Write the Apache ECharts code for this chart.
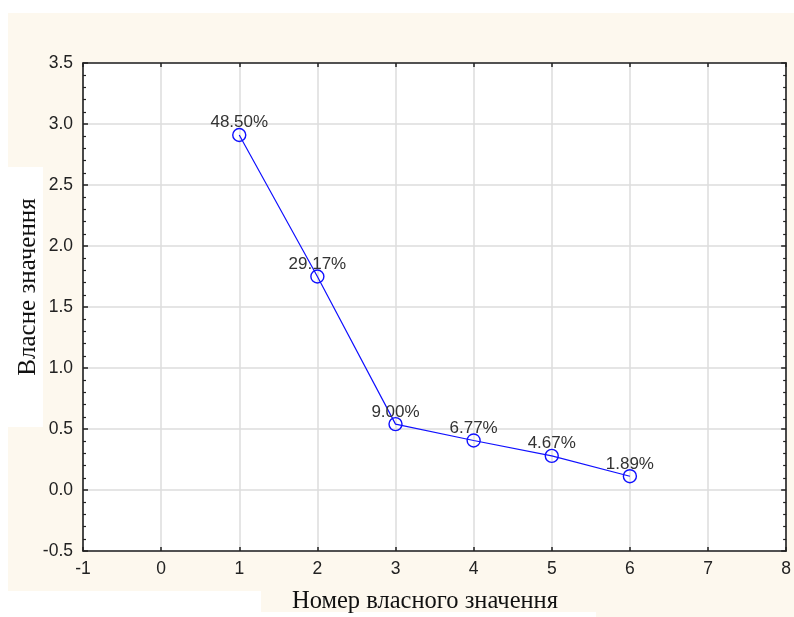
<!DOCTYPE html>
<html>
<head>
<meta charset="utf-8">
<script src="https://cdn.jsdelivr.net/npm/echarts@6/dist/echarts.min.js"></script>
<style>
  html, body { margin: 0; padding: 0; background: #ffffff; }
  #chart { width: 794px; height: 617px; }
</style>
</head>
<body>
<div id="chart"></div>
<script>
// Eigenvalue scree plot
const componentNumbers = [1, 2, 3, 4, 5, 6];
const eigenValues = [2.910, 1.750, 0.540, 0.406, 0.280, 0.113];
const varianceLabels = ['48.50%', '29.17%', '9.00%', '6.77%', '4.67%', '1.89%'];
const xTitle = 'Номер власного значення';
const yTitle = 'Власне значення';

const seriesData = componentNumbers.map((n, i) => [n, eigenValues[i]]);

const chart = echarts.init(document.getElementById('chart'), null, { renderer: 'canvas' });

const tickFont = { fontFamily: 'Liberation Sans, Arial, sans-serif', fontSize: 17.5, color: '#222' };
const axisLineStyle = { color: '#222', width: 1.6 };
const gridLine = { show: true, lineStyle: { color: '#dcdcdc', width: 1.5 } };

const cream = '#fdf8ee';

const option = {
  animation: false,
  backgroundColor: '#ffffff',
  graphic: [
    { type: 'rect', z: -10, shape: { x: 8, y: 13, width: 786, height: 604 }, style: { fill: cream } },
    { type: 'rect', z: -9, shape: { x: 8, y: 167, width: 35, height: 260 }, style: { fill: '#ffffff' } },
    { type: 'rect', z: -9, shape: { x: 0, y: 591, width: 261, height: 26 }, style: { fill: '#ffffff' } },
    { type: 'rect', z: -9, shape: { x: 261, y: 612, width: 335, height: 5 }, style: { fill: '#ffffff' } },
    {
      type: 'text', x: 28, y: 287, rotation: Math.PI / 2,
      style: { text: yTitle, fill: '#111', font: '25px "Liberation Serif", "Times New Roman", serif', align: 'center', verticalAlign: 'middle' }
    },
    {
      type: 'text', x: 425, y: 602,
      style: { text: xTitle, fill: '#111', font: '24.5px "Liberation Serif", "Times New Roman", serif', align: 'center', verticalAlign: 'middle' }
    }
  ],
  grid: {
    left: 83, right: 4, top: 63, bottom: 66,
    show: true, backgroundColor: '#ffffff', borderWidth: 0
  },
  xAxis: [
    {
      type: 'value', position: 'bottom', min: -1, max: 8, interval: 1,
      axisLine: { show: true, onZero: false, lineStyle: axisLineStyle },
      axisTick: { show: true, inside: true, length: 4, lineStyle: { color: '#222', width: 1.5 } },
      axisLabel: Object.assign({ margin: 9, formatter: v => String(v) }, tickFont),
      splitLine: gridLine
    },
    {
      type: 'value', position: 'top', min: -1, max: 8, interval: 1,
      axisLine: { show: true, onZero: false, lineStyle: axisLineStyle },
      axisTick: { show: true, inside: true, length: 4, lineStyle: { color: '#222', width: 1.5 } },
      axisLabel: { show: false },
      splitLine: { show: false }
    }
  ],
  yAxis: [
    {
      type: 'value', position: 'left', min: -0.5, max: 3.5, interval: 0.5,
      axisLine: { show: true, onZero: false, lineStyle: axisLineStyle },
      axisTick: { show: true, inside: true, length: 5, lineStyle: { color: '#222', width: 1.5 } },
      minorTick: { show: true, splitNumber: 5, length: 3, lineStyle: { color: '#222', width: 1.2 } },
      axisLabel: Object.assign({ margin: 10, formatter: v => v.toFixed(1) }, tickFont),
      splitLine: gridLine
    },
    {
      type: 'value', position: 'right', min: -0.5, max: 3.5, interval: 0.5,
      axisLine: { show: true, onZero: false, lineStyle: axisLineStyle },
      axisTick: { show: true, inside: true, length: 5, lineStyle: { color: '#222', width: 1.5 } },
      minorTick: { show: true, splitNumber: 5, length: 3, lineStyle: { color: '#222', width: 1.2 } },
      axisLabel: { show: false },
      splitLine: { show: false }
    }
  ],
  series: [
    {
      type: 'line',
      xAxisIndex: 0, yAxisIndex: 0,
      data: seriesData,
      symbol: 'circle',
      symbolSize: 13,
      lineStyle: { color: '#1010ff', width: 1.2 },
      itemStyle: { color: 'rgba(255,255,255,0)', borderColor: '#1010ff', borderWidth: 1.4 },
      label: {
        show: true, position: 'top', distance: -3.5,
        formatter: p => varianceLabels[p.dataIndex],
        fontFamily: 'Liberation Sans, Arial, sans-serif', fontSize: 17, color: '#333'
      }
    }
  ]
};

chart.setOption(option);
</script>
</body>
</html>
